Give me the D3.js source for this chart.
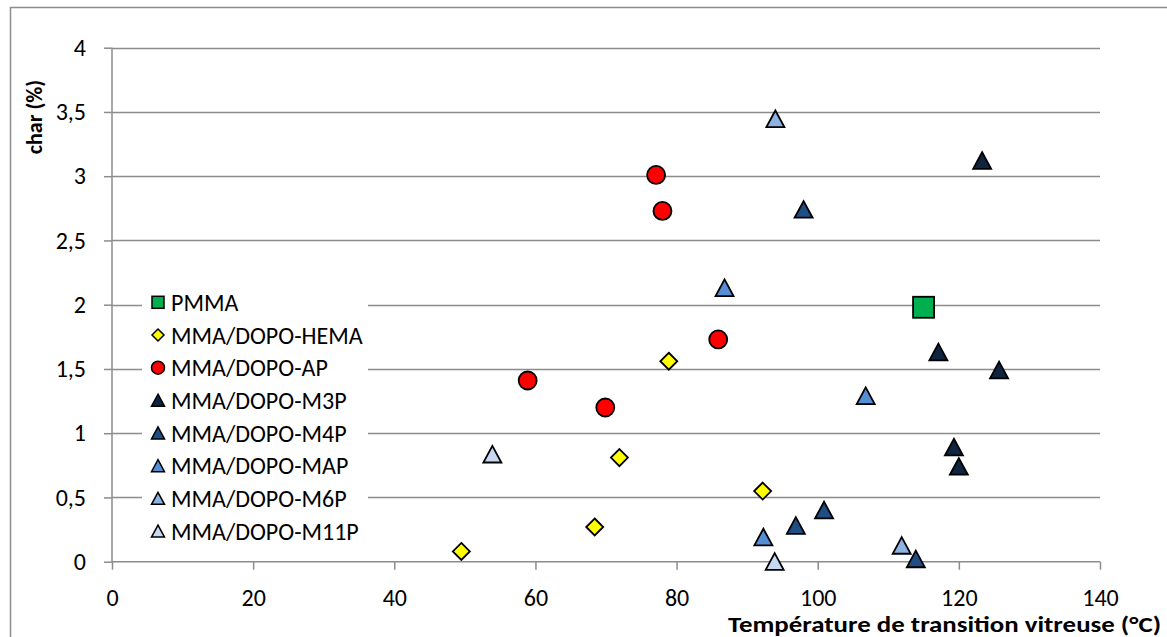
<!DOCTYPE html>
<html><head><meta charset="utf-8">
<script src="https://cdn.jsdelivr.net/npm/d3@7"></script>
<style>body{margin:0;background:#fff}svg{display:block}text{font-family:Carlito,Lato,sans-serif}</style>
</head><body><svg id="c" width="1167" height="637"></svg>
<script>
const seriesNames = ["PMMA","MMA/DOPO-HEMA","MMA/DOPO-AP","MMA/DOPO-M3P","MMA/DOPO-M4P","MMA/DOPO-MAP","MMA/DOPO-M6P","MMA/DOPO-M11P"];
const pmma = [[115.0,1.98]];
const hema = [[49.5,0.08],[68.4,0.27],[71.9,0.81],[78.9,1.56],[92.2,0.55]];
const ap = [[77.1,3.01],[78.0,2.73],[85.9,1.73],[58.9,1.41],[69.9,1.20]];
const m3p = [[123.3,3.12],[117.1,1.63],[125.7,1.49],[119.3,0.89],[120.0,0.74]];
const m4p = [[98.0,2.74],[96.9,0.28],[100.9,0.40],[113.9,0.02]];
const map = [[86.8,2.13],[106.8,1.29],[92.3,0.19]];
const m6p = [[94.0,3.445],[111.9,0.125]];
const m11p = [[53.9,0.835],[93.9,0.0]];
const xTicks = [0,20,40,60,80,100,120,140];
const yTicks = [0,0.5,1,1.5,2,2.5,3,3.5,4];
const xTitle = "Température de transition vitreuse (°C)";
const yTitle = "char (%)";

const series = [
 {name:seriesNames[0], data:pmma, shape:"square", fill:"#00b050"},
 {name:seriesNames[1], data:hema, shape:"diamond", fill:"#ffff00"},
 {name:seriesNames[2], data:ap, shape:"circle", fill:"#ff0000"},
 {name:seriesNames[3], data:m3p, shape:"triangle", fill:"#0f243e"},
 {name:seriesNames[4], data:m4p, shape:"triangle", fill:"#1f4e85"},
 {name:seriesNames[5], data:map, shape:"triangle", fill:"#558ed5"},
 {name:seriesNames[6], data:m6p, shape:"triangle", fill:"#8db3e2"},
 {name:seriesNames[7], data:m11p, shape:"triangle", fill:"#c6d9f1"}
];

const svg = d3.select("#c");
svg.append("rect").attr("x",10.5).attr("y",7.5).attr("width",1200).attr("height",700)
  .attr("fill","#fff").attr("stroke","#8c8c8c").attr("stroke-width",1.5);

const x = d3.scaleLinear().domain([0,140]).range([112,1100]);
const y = d3.scaleLinear().domain([0,4]).range([561.7,47.7]);
const fmt = d => String(d).replace(".",",");

// gridlines
svg.append("g").selectAll("line").data(yTicks.filter(d=>d>0)).join("line")
  .attr("x1",x(0)).attr("x2",x(140)).attr("y1",d=>Math.round(y(d))+0.5).attr("y2",d=>Math.round(y(d))+0.5)
  .attr("stroke","#8c8c8c").attr("stroke-width",1.5);

// axes
const ya = svg.append("g").attr("transform",`translate(${x(0)},0)`)
  .call(d3.axisLeft(y).tickValues(yTicks).tickFormat(fmt).tickSize(8).tickPadding(18));
const xa = svg.append("g").attr("transform",`translate(0,${y(0)})`)
  .call(d3.axisBottom(x).tickValues(xTicks).tickSize(8).tickPadding(19));
[ya,xa].forEach(a=>{
  a.selectAll("path,line").attr("stroke","#8c8c8c").attr("stroke-width",1.5);
  a.selectAll("text").attr("font-size",24).attr("fill","#000").style("font-family","Carlito,Lato,sans-serif");
});
xa.select(".domain").attr("d",`M${x(0)},0H${x(140)}`);
ya.select(".domain").attr("d",`M0,${y(0)}V${y(4)}`);

// titles
svg.append("text").attr("x",1161).attr("y",632).attr("text-anchor","end")
  .attr("font-size",23).attr("font-weight","bold")
  .attr("textLength",433).attr("lengthAdjust","spacingAndGlyphs").text(xTitle);
svg.append("text").attr("transform","translate(42,117) rotate(-90)").attr("text-anchor","middle")
  .attr("font-size",22).attr("font-weight","bold").text(yTitle);

function marker(g, shape, s){
  const h = s/2;
  if(shape==="square") return g.append("rect").attr("x",-h).attr("y",-h).attr("width",s).attr("height",s);
  if(shape==="circle") return g.append("circle").attr("r",h);
  if(shape==="diamond") return g.append("path").attr("d",`M0,${-h}L${h},0L0,${h}L${-h},0Z`);
  return g.append("path").attr("d",`M0,${-h*0.95}L${h},${h*0.9}L${-h},${h*0.9}Z`);
}
const sizes = {square:21, circle:18, diamond:17, triangle:18};
const lsizes = {square:12, circle:13, diamond:12, triangle:13};

// legend
svg.append("rect").attr("x",142).attr("y",286).attr("width",226).attr("height",262).attr("fill","#fff");
series.forEach((s,i)=>{
  const g = svg.append("g").attr("transform",`translate(158,${302.3+i*32.7})`);
  marker(g,s.shape,lsizes[s.shape]).attr("fill",s.fill).attr("stroke","#000").attr("stroke-width",1.5);
  g.append("text").attr("x",13).attr("y",0).attr("dy","0.36em").attr("font-size",24).text(s.name);
});

// points
series.forEach(s=>{
  svg.append("g").selectAll("g").data(s.data).join("g")
    .attr("transform",d=>`translate(${x(d[0])},${y(d[1])})`)
    .each(function(){ marker(d3.select(this),s.shape,sizes[s.shape]).attr("fill",s.fill).attr("stroke","#000").attr("stroke-width",1.8); });
});
</script></body></html>
